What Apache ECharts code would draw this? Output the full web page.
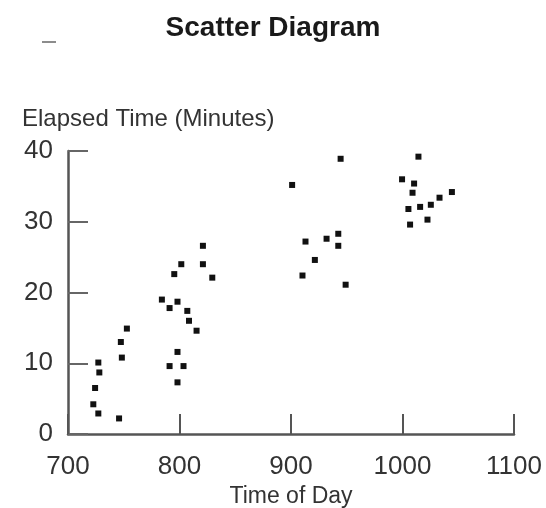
<!DOCTYPE html>
<html>
<head>
<meta charset="utf-8">
<script src="https://cdn.jsdelivr.net/npm/echarts@6/dist/echarts.min.js"></script>
<style>html,body{margin:0;padding:0;background:#fff;}#c{width:546px;height:508px;}</style>
</head>
<body>
<div id="c"></div>
<script>
const timeOfDay = [901, 821, 801.6, 821, 795.3, 829.4, 784.2, 798.2, 791.1, 807, 808.5, 815.3, 752.8, 747.4, 748.3, 798.2, 791.1, 803.6, 798.2, 727.2, 728.1, 724.3, 722.7, 727.2, 745.8,
  944.5, 1014.3, 999.6, 1010.4, 1009, 1044.3, 1033.2, 1025.4, 1015.8, 1005.3, 1022.4, 1006.8, 942.4, 931.9, 913, 942.4, 921.4, 910.3, 949];
const elapsedMinutes = [35.2, 26.6, 24.0, 24.0, 22.6, 22.1, 19.0, 18.7, 17.8, 17.4, 16.0, 14.6, 14.9, 13.0, 10.8, 11.6, 9.6, 9.6, 7.3, 10.1, 8.7, 6.5, 4.2, 2.9, 2.2,
  38.9, 39.2, 36.0, 35.4, 34.1, 34.2, 33.4, 32.4, 32.1, 31.8, 30.3, 29.6, 28.3, 27.6, 27.2, 26.6, 24.6, 22.4, 21.1];
const xTicks = [700, 800, 900, 1000, 1100];
const yTicks = [0, 10, 20, 30, 40];

const points = timeOfDay.map((t, i) => [t, elapsedMinutes[i]]);
const font = "'Liberation Sans', Arial, sans-serif";

const chart = echarts.init(document.getElementById('c'), null, {renderer: 'canvas'});
chart.setOption({
  animation: false,
  backgroundColor: '#ffffff',
  title: [
    {text: 'Scatter Diagram', left: 'center', top: 9,
     textStyle: {fontFamily: font, fontWeight: 'bold', fontSize: 28, color: '#1a1a1a'}},
    {text: 'Elapsed Time (Minutes)', left: 17, top: 102,
     textStyle: {fontFamily: font, fontWeight: 'normal', fontSize: 24, color: '#333'}}
  ],
  graphic: [
    {type: 'line', shape: {x1: 42, y1: 42, x2: 56, y2: 42}, style: {stroke: '#666', lineWidth: 1.5}}
  ],
  grid: {left: 68, right: 32, top: 151, bottom: 74, containLabel: false, outerBoundsMode: 'none'},
  xAxis: {
    type: 'value', min: xTicks[0], max: xTicks[xTicks.length - 1], interval: 100,
    name: 'Time of Day', nameLocation: 'middle', nameGap: 51,
    nameTextStyle: {fontFamily: font, fontSize: 23, color: '#333'},
    axisLine: {show: true, lineStyle: {color: '#555', width: 2.5}},
    axisTick: {show: true, inside: true, length: 20, lineStyle: {color: '#555', width: 2}},
    axisLabel: {fontFamily: font, fontSize: 26, color: '#333', margin: 20,
      formatter: v => xTicks.includes(v) ? String(v) : ''},
    splitLine: {show: false}
  },
  yAxis: {
    type: 'value', min: yTicks[0], max: yTicks[yTicks.length - 1], interval: 10,
    axisLine: {show: true, lineStyle: {color: '#555', width: 2.5}},
    axisTick: {show: true, inside: true, length: 20, lineStyle: {color: '#666', width: 2}},
    axisLabel: {fontFamily: font, fontSize: 26, color: '#333', margin: 15,
      formatter: v => yTicks.includes(v) ? String(v) : ''},
    splitLine: {show: false}
  },
  series: [{
    type: 'scatter',
    data: points,
    symbol: 'rect',
    symbolSize: 6,
    itemStyle: {color: '#111', opacity: 1}
  }]
});
</script>
</body>
</html>
